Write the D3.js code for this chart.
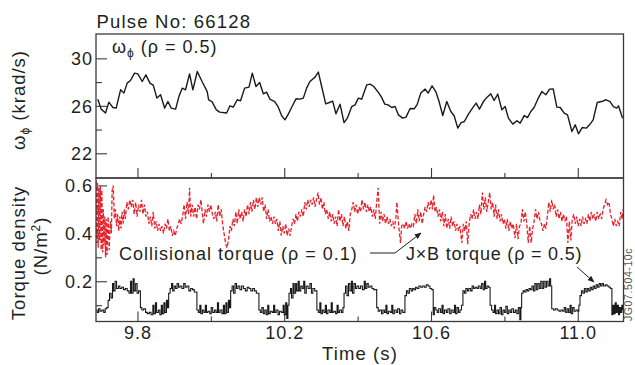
<!DOCTYPE html>
<html><head><meta charset="utf-8">
<script src="https://cdn.jsdelivr.net/npm/d3@7/dist/d3.min.js"></script>
<style>
body{margin:0;background:#fff}
svg text{font-family:"Liberation Sans",Arial,Helvetica,sans-serif;fill:#231f20}
</style></head><body>
<svg id="chart" width="635" height="365"></svg>
<script>
// ---------------- data ----------------
const pulseTitle = "Pulse No: 66128";
const xTickMajor = [9.8, 10.2, 10.6, 11.0];
const xTickMinor = [10.0, 10.4, 10.8];
const xTickLabels = ["9.8", "10.2", "10.6", "11.0"];
const omegaTickMajor = [22, 26, 30];
const omegaTickMinor = [24, 28];
const torqueTickMajor = [0.2, 0.4, 0.6];
const torqueTickMinor = [0.1, 0.3, 0.5];
const torqueTickLabels = ["0.2", "0.4", "0.6"];

// toroidal rotation at rho = 0.5  [time (s), krad/s]
const omegaSeries = [[9.692,26.56],[9.701,25.72],[9.713,25.39],[9.722,26.31],[9.733,25.86],[9.742,25.81],[9.754,27.35],[9.763,27.07],[9.772,27.91],[9.781,28.13],[9.792,28.75],[9.801,28.69],[9.813,28.05],[9.823,28.61],[9.834,27.91],[9.843,27.74],[9.853,26.65],[9.863,26.93],[9.874,25.81],[9.883,26.36],[9.892,25.81],[9.904,25.72],[9.913,26.78],[9.922,27.49],[9.931,27.35],[9.942,28.69],[9.951,27.35],[9.963,28.89],[9.976,28.05],[9.990,27.20],[9.994,26.51],[10.003,26.36],[10.015,25.66],[10.024,25.47],[10.043,25.39],[10.052,26.0],[10.061,25.89],[10.072,26.51],[10.081,26.42],[10.092,27.49],[10.104,27.57],[10.113,28.75],[10.123,27.63],[10.133,27.96],[10.143,27.01],[10.152,27.15],[10.161,26.56],[10.174,26.36],[10.183,25.94],[10.193,25.16],[10.202,24.82],[10.211,25.30],[10.220,25.86],[10.232,26.59],[10.243,26.56],[10.252,26.65],[10.261,27.49],[10.270,28.05],[10.284,28.42],[10.293,28.84],[10.302,27.63],[10.313,26.17],[10.323,26.28],[10.332,26.40],[10.341,25.33],[10.352,26.14],[10.363,24.59],[10.372,24.96],[10.384,25.94],[10.393,26.08],[10.402,26.65],[10.411,26.56],[10.425,27.77],[10.434,27.83],[10.444,27.63],[10.456,27.15],[10.465,26.73],[10.474,26.14],[10.483,26.08],[10.493,25.86],[10.502,25.94],[10.511,25.24],[10.523,24.96],[10.532,25.05],[10.543,25.77],[10.554,25.75],[10.562,26.08],[10.572,27.07],[10.584,27.41],[10.592,27.07],[10.603,27.68],[10.613,27.20],[10.622,26.36],[10.632,25.18],[10.643,26.36],[10.654,25.52],[10.663,25.16],[10.673,24.12],[10.682,24.59],[10.691,24.68],[10.702,25.30],[10.713,25.81],[10.723,26.23],[10.732,25.72],[10.743,26.36],[10.753,26.73],[10.763,27.01],[10.772,26.45],[10.782,26.99],[10.793,25.66],[10.802,25.94],[10.811,24.96],[10.823,24.46],[10.834,24.74],[10.843,24.54],[10.854,25.18],[10.863,25.01],[10.872,25.52],[10.881,25.86],[10.891,26.56],[10.902,27.20],[10.913,26.93],[10.923,27.41],[10.933,27.43],[10.943,25.89],[10.952,25.86],[10.963,25.39],[10.972,25.24],[10.984,23.84],[10.993,24.40],[11.002,23.64],[11.012,24.17],[11.023,24.12],[11.032,24.40],[11.042,24.82],[11.053,26.28],[11.065,26.36],[11.077,26.51],[11.088,26.36],[11.097,25.94],[11.106,25.81],[11.111,26.0],[11.122,24.96]];

// collisional torque density at rho = 0.1  [time (s), N/m^2]
const collisionalSeries = [[9.687,0.62],[9.689,0.36],[9.691,0.61],[9.693,0.34],[9.695,0.59],[9.697,0.37],[9.699,0.6],[9.701,0.33],[9.703,0.58],[9.705,0.32],[9.707,0.5],[9.709,0.35],[9.711,0.47],[9.713,0.3],[9.715,0.46],[9.717,0.31],[9.720,0.47],[9.723,0.33],[9.726,0.45],[9.729,0.4],[9.731,0.58],[9.734,0.6],[9.737,0.46],[9.740,0.5],[9.743,0.43],[9.746,0.48],[9.749,0.41],[9.752,0.47],[9.755,0.42],[9.758,0.49],[9.761,0.44],[9.764,0.5],[9.767,0.46],[9.771,0.53],[9.775,0.5],[9.779,0.54],[9.783,0.51],[9.787,0.54],[9.791,0.48],[9.795,0.53],[9.799,0.47],[9.803,0.52],[9.807,0.49],[9.811,0.54],[9.815,0.48],[9.819,0.52],[9.823,0.47],[9.827,0.49],[9.831,0.44],[9.835,0.47],[9.839,0.43],[9.843,0.49],[9.847,0.42],[9.851,0.45],[9.855,0.41],[9.859,0.44],[9.863,0.41],[9.867,0.43],[9.871,0.4],[9.875,0.44],[9.879,0.42],[9.883,0.46],[9.887,0.41],[9.891,0.43],[9.895,0.39],[9.899,0.41],[9.903,0.39],[9.907,0.42],[9.911,0.44],[9.915,0.46],[9.919,0.44],[9.923,0.47],[9.927,0.52],[9.931,0.46],[9.935,0.53],[9.939,0.48],[9.942,0.59],[9.945,0.47],[9.949,0.52],[9.953,0.47],[9.957,0.51],[9.961,0.46],[9.965,0.52],[9.969,0.5],[9.973,0.54],[9.977,0.48],[9.980,0.44],[9.984,0.5],[9.988,0.47],[9.992,0.52],[9.996,0.49],[10.000,0.52],[10.004,0.48],[10.008,0.46],[10.012,0.49],[10.016,0.45],[10.020,0.52],[10.024,0.47],[10.028,0.5],[10.032,0.44],[10.036,0.4],[10.040,0.36],[10.044,0.34],[10.048,0.37],[10.052,0.43],[10.056,0.41],[10.060,0.46],[10.064,0.43],[10.068,0.49],[10.072,0.44],[10.076,0.5],[10.080,0.46],[10.084,0.49],[10.088,0.45],[10.092,0.5],[10.096,0.47],[10.100,0.52],[10.104,0.48],[10.108,0.53],[10.112,0.49],[10.116,0.54],[10.120,0.5],[10.124,0.55],[10.128,0.51],[10.132,0.55],[10.136,0.52],[10.140,0.55],[10.144,0.49],[10.148,0.52],[10.152,0.46],[10.156,0.5],[10.160,0.45],[10.164,0.47],[10.168,0.44],[10.172,0.47],[10.176,0.44],[10.180,0.46],[10.184,0.41],[10.188,0.45],[10.192,0.39],[10.196,0.43],[10.200,0.4],[10.204,0.44],[10.208,0.39],[10.212,0.42],[10.216,0.39],[10.220,0.43],[10.224,0.46],[10.228,0.44],[10.232,0.48],[10.236,0.45],[10.240,0.49],[10.244,0.47],[10.248,0.5],[10.252,0.47],[10.256,0.53],[10.260,0.5],[10.264,0.54],[10.268,0.51],[10.272,0.54],[10.276,0.52],[10.280,0.55],[10.284,0.51],[10.288,0.54],[10.292,0.57],[10.296,0.52],[10.300,0.55],[10.304,0.5],[10.308,0.53],[10.312,0.48],[10.316,0.5],[10.320,0.46],[10.324,0.49],[10.328,0.45],[10.332,0.48],[10.336,0.44],[10.340,0.47],[10.344,0.43],[10.348,0.5],[10.352,0.45],[10.356,0.48],[10.360,0.43],[10.364,0.47],[10.368,0.42],[10.372,0.45],[10.376,0.41],[10.380,0.48],[10.384,0.5],[10.388,0.53],[10.392,0.49],[10.396,0.52],[10.400,0.48],[10.404,0.51],[10.408,0.49],[10.412,0.54],[10.416,0.5],[10.420,0.53],[10.424,0.49],[10.428,0.52],[10.432,0.49],[10.436,0.51],[10.440,0.47],[10.444,0.5],[10.448,0.46],[10.452,0.53],[10.456,0.59],[10.460,0.44],[10.464,0.49],[10.468,0.45],[10.472,0.48],[10.476,0.44],[10.480,0.47],[10.484,0.44],[10.488,0.46],[10.492,0.43],[10.496,0.45],[10.500,0.42],[10.504,0.46],[10.507,0.53],[10.511,0.45],[10.514,0.4],[10.517,0.36],[10.520,0.43],[10.524,0.44],[10.528,0.42],[10.532,0.45],[10.536,0.42],[10.540,0.44],[10.544,0.42],[10.548,0.44],[10.552,0.43],[10.556,0.48],[10.560,0.44],[10.564,0.5],[10.568,0.45],[10.572,0.49],[10.576,0.44],[10.580,0.48],[10.584,0.51],[10.588,0.49],[10.592,0.53],[10.596,0.5],[10.600,0.54],[10.604,0.5],[10.607,0.56],[10.611,0.49],[10.615,0.51],[10.619,0.47],[10.623,0.5],[10.627,0.45],[10.631,0.49],[10.635,0.43],[10.639,0.48],[10.643,0.42],[10.647,0.46],[10.651,0.42],[10.655,0.47],[10.659,0.43],[10.663,0.45],[10.667,0.41],[10.671,0.44],[10.675,0.41],[10.679,0.43],[10.684,0.36],[10.688,0.44],[10.692,0.41],[10.696,0.45],[10.700,0.355],[10.704,0.44],[10.708,0.48],[10.712,0.46],[10.716,0.5],[10.720,0.46],[10.724,0.49],[10.728,0.46],[10.732,0.52],[10.736,0.48],[10.740,0.57],[10.744,0.5],[10.748,0.55],[10.752,0.49],[10.756,0.53],[10.760,0.57],[10.764,0.5],[10.768,0.53],[10.772,0.47],[10.776,0.52],[10.780,0.46],[10.784,0.5],[10.788,0.45],[10.792,0.48],[10.796,0.44],[10.800,0.46],[10.804,0.42],[10.808,0.46],[10.812,0.41],[10.816,0.45],[10.820,0.42],[10.824,0.44],[10.829,0.38],[10.833,0.44],[10.837,0.376],[10.841,0.43],[10.845,0.44],[10.849,0.5],[10.853,0.45],[10.857,0.49],[10.861,0.44],[10.865,0.36],[10.869,0.43],[10.873,0.36],[10.877,0.42],[10.881,0.45],[10.885,0.5],[10.889,0.46],[10.893,0.49],[10.897,0.45],[10.901,0.44],[10.905,0.41],[10.909,0.44],[10.913,0.42],[10.917,0.47],[10.921,0.53],[10.925,0.49],[10.929,0.54],[10.933,0.5],[10.937,0.52],[10.941,0.47],[10.945,0.5],[10.949,0.46],[10.953,0.49],[10.957,0.45],[10.961,0.48],[10.965,0.45],[10.969,0.47],[10.973,0.36],[10.977,0.45],[10.981,0.37],[10.985,0.46],[10.989,0.48],[10.993,0.44],[10.997,0.47],[11.001,0.43],[11.005,0.46],[11.009,0.43],[11.013,0.47],[11.017,0.44],[11.021,0.46],[11.025,0.44],[11.029,0.48],[11.033,0.45],[11.037,0.49],[11.041,0.46],[11.045,0.48],[11.049,0.45],[11.053,0.49],[11.057,0.46],[11.061,0.48],[11.065,0.46],[11.069,0.5],[11.073,0.52],[11.077,0.54],[11.081,0.52],[11.085,0.53],[11.089,0.48],[11.093,0.46],[11.097,0.43],[11.101,0.46],[11.105,0.43],[11.109,0.45],[11.113,0.43],[11.117,0.49],[11.121,0.46],[11.124,0.5]];

// J x B torque density at rho = 0.5  [time (s), N/m^2]
const jxbSeries = [[9.686,0.08],[9.690,0.07],[9.694,0.085],[9.698,0.075],[9.703,0.08],[9.708,0.07],[9.712,0.085],[9.716,0.09],[9.720,0.12],[9.724,0.15],[9.728,0.13],[9.732,0.19],[9.735,0.16],[9.739,0.2],[9.743,0.17],[9.748,0.18],[9.752,0.17],[9.757,0.175],[9.762,0.165],[9.767,0.17],[9.772,0.16],[9.777,0.15],[9.781,0.2],[9.784,0.15],[9.788,0.21],[9.791,0.16],[9.795,0.19],[9.799,0.15],[9.803,0.16],[9.808,0.09],[9.812,0.08],[9.817,0.085],[9.822,0.07],[9.827,0.065],[9.832,0.07],[9.837,0.06],[9.842,0.1],[9.845,0.065],[9.849,0.11],[9.852,0.07],[9.857,0.08],[9.861,0.06],[9.865,0.1],[9.868,0.065],[9.872,0.11],[9.875,0.07],[9.879,0.12],[9.882,0.09],[9.885,0.15],[9.889,0.17],[9.893,0.19],[9.896,0.16],[9.900,0.18],[9.904,0.17],[9.908,0.19],[9.912,0.175],[9.916,0.18],[9.921,0.17],[9.926,0.19],[9.930,0.175],[9.935,0.18],[9.940,0.16],[9.945,0.17],[9.950,0.165],[9.955,0.155],[9.962,0.08],[9.966,0.07],[9.970,0.1],[9.973,0.065],[9.977,0.08],[9.981,0.07],[9.985,0.1],[9.988,0.07],[9.992,0.075],[9.997,0.065],[10.001,0.09],[10.005,0.07],[10.010,0.08],[10.014,0.07],[10.018,0.11],[10.021,0.07],[10.025,0.08],[10.030,0.065],[10.034,0.1],[10.037,0.065],[10.041,0.11],[10.044,0.07],[10.048,0.12],[10.051,0.09],[10.054,0.16],[10.058,0.18],[10.062,0.15],[10.066,0.19],[10.070,0.17],[10.074,0.18],[10.079,0.165],[10.084,0.18],[10.089,0.17],[10.094,0.16],[10.099,0.175],[10.104,0.17],[10.109,0.16],[10.114,0.17],[10.119,0.16],[10.124,0.15],[10.131,0.08],[10.135,0.07],[10.139,0.09],[10.143,0.065],[10.147,0.08],[10.151,0.06],[10.155,0.1],[10.158,0.065],[10.162,0.075],[10.167,0.07],[10.171,0.1],[10.174,0.07],[10.178,0.08],[10.183,0.06],[10.187,0.075],[10.192,0.07],[10.197,0.1],[10.200,0.06],[10.204,0.11],[10.207,0.045],[10.210,0.1],[10.213,0.15],[10.217,0.17],[10.220,0.13],[10.224,0.19],[10.227,0.15],[10.231,0.19],[10.234,0.16],[10.238,0.2],[10.241,0.16],[10.245,0.18],[10.249,0.17],[10.253,0.2],[10.256,0.15],[10.260,0.18],[10.265,0.17],[10.270,0.19],[10.274,0.15],[10.278,0.17],[10.283,0.16],[10.289,0.08],[10.293,0.07],[10.297,0.11],[10.300,0.065],[10.304,0.08],[10.308,0.07],[10.312,0.1],[10.315,0.065],[10.319,0.08],[10.324,0.07],[10.328,0.11],[10.331,0.07],[10.335,0.075],[10.340,0.065],[10.344,0.1],[10.347,0.07],[10.351,0.08],[10.356,0.07],[10.360,0.09],[10.363,0.15],[10.367,0.18],[10.371,0.14],[10.375,0.19],[10.379,0.16],[10.383,0.2],[10.386,0.15],[10.390,0.19],[10.394,0.17],[10.398,0.18],[10.403,0.17],[10.408,0.18],[10.413,0.165],[10.418,0.2],[10.421,0.17],[10.425,0.19],[10.429,0.175],[10.434,0.18],[10.439,0.17],[10.444,0.165],[10.452,0.09],[10.456,0.075],[10.460,0.08],[10.465,0.065],[10.469,0.08],[10.473,0.07],[10.477,0.1],[10.480,0.065],[10.484,0.075],[10.489,0.07],[10.493,0.1],[10.496,0.065],[10.500,0.08],[10.505,0.07],[10.509,0.085],[10.514,0.065],[10.518,0.08],[10.523,0.07],[10.529,0.14],[10.533,0.16],[10.537,0.15],[10.541,0.17],[10.546,0.16],[10.550,0.17],[10.554,0.165],[10.558,0.175],[10.562,0.17],[10.567,0.18],[10.572,0.175],[10.577,0.18],[10.582,0.175],[10.587,0.185],[10.592,0.18],[10.597,0.17],[10.602,0.165],[10.606,0.06],[10.609,0.09],[10.613,0.08],[10.617,0.07],[10.621,0.085],[10.626,0.07],[10.630,0.1],[10.633,0.065],[10.637,0.08],[10.642,0.07],[10.646,0.085],[10.651,0.065],[10.655,0.08],[10.660,0.07],[10.664,0.1],[10.667,0.065],[10.671,0.09],[10.675,0.07],[10.679,0.08],[10.683,0.1],[10.687,0.16],[10.691,0.15],[10.695,0.17],[10.699,0.16],[10.703,0.17],[10.708,0.16],[10.712,0.18],[10.716,0.17],[10.720,0.175],[10.725,0.17],[10.729,0.18],[10.734,0.17],[10.738,0.19],[10.742,0.165],[10.746,0.2],[10.749,0.17],[10.753,0.18],[10.757,0.175],[10.761,0.1],[10.765,0.08],[10.769,0.07],[10.773,0.1],[10.776,0.065],[10.780,0.08],[10.784,0.065],[10.788,0.09],[10.792,0.06],[10.796,0.08],[10.800,0.07],[10.804,0.095],[10.808,0.065],[10.812,0.08],[10.816,0.07],[10.820,0.085],[10.825,0.07],[10.830,0.08],[10.834,0.065],[10.838,0.09],[10.842,0.04],[10.845,0.09],[10.847,0.15],[10.851,0.16],[10.855,0.155],[10.859,0.165],[10.863,0.16],[10.867,0.17],[10.871,0.165],[10.875,0.18],[10.879,0.16],[10.883,0.19],[10.887,0.165],[10.891,0.19],[10.895,0.17],[10.899,0.2],[10.903,0.17],[10.907,0.2],[10.911,0.175],[10.915,0.2],[10.919,0.18],[10.923,0.21],[10.926,0.18],[10.929,0.085],[10.934,0.08],[10.939,0.085],[10.944,0.08],[10.949,0.075],[10.954,0.08],[10.959,0.075],[10.963,0.09],[10.967,0.07],[10.971,0.085],[10.975,0.07],[10.979,0.1],[10.982,0.065],[10.986,0.09],[10.990,0.075],[10.995,0.08],[11.000,0.075],[11.003,0.1],[11.006,0.14],[11.010,0.16],[11.014,0.15],[11.018,0.17],[11.022,0.155],[11.026,0.17],[11.030,0.16],[11.034,0.175],[11.038,0.165],[11.042,0.18],[11.046,0.17],[11.050,0.185],[11.054,0.175],[11.058,0.19],[11.062,0.18],[11.066,0.19],[11.070,0.18],[11.075,0.185],[11.080,0.18],[11.085,0.175],[11.089,0.17],[11.093,0.06],[11.096,0.1],[11.099,0.065],[11.102,0.11],[11.105,0.07],[11.108,0.1],[11.111,0.06],[11.114,0.09],[11.117,0.07],[11.120,0.1],[11.123,0.08]];

// ---------------- drawing ----------------
const svg = d3.select("#chart");
const left = 96, right = 623.5;
const topY0 = 34, topY1 = 178, botY0 = 178, botY1 = 321.5;

const x = d3.scaleLinear().domain([9.687, 11.1246]).range([left, right]);
const yTop = d3.scaleLinear().domain([19.92, 32.05]).range([topY1, topY0]);
const yBot = d3.scaleLinear().domain([0.032, 0.631]).range([botY1, botY0]);

const axisColor = "#3a3a3a";
const fontSize = 18;

function tickAxis(axis, tx, ty) {
  const g = svg.append("g").attr("transform", `translate(${tx},${ty})`).call(axis);
  g.select(".domain").remove();
  g.selectAll("line").attr("stroke", axisColor).attr("stroke-width", 1.1);
  return g;
}

// top panel ticks
tickAxis(d3.axisBottom(x).tickValues(xTickMajor).tickSize(-10).tickFormat(""), 0, topY1);
tickAxis(d3.axisBottom(x).tickValues(xTickMinor).tickSize(-5).tickFormat(""), 0, topY1);
tickAxis(d3.axisLeft(yTop).tickValues(omegaTickMajor).tickSize(-11).tickFormat(""), left, 0);
tickAxis(d3.axisLeft(yTop).tickValues(omegaTickMinor).tickSize(-6).tickFormat(""), left, 0);
// bottom panel ticks
tickAxis(d3.axisBottom(x).tickValues(xTickMajor).tickSize(-10).tickFormat(""), 0, botY1);
tickAxis(d3.axisBottom(x).tickValues(xTickMinor).tickSize(-5).tickFormat(""), 0, botY1);
tickAxis(d3.axisLeft(yBot).tickValues(torqueTickMajor).tickSize(-11).tickFormat(""), left, 0);
tickAxis(d3.axisLeft(yBot).tickValues(torqueTickMinor).tickSize(-6).tickFormat(""), left, 0);

// tick labels
function labelAxis(axis, tx, ty, fn) {
  const g = svg.append("g").attr("transform", `translate(${tx},${ty})`).call(axis);
  g.select(".domain").remove();
  g.selectAll("line").remove();
  g.attr("font-family", null).attr("font-size", null);
  g.selectAll("text").attr("fill", "#231f20").style("font-size", fontSize + "px").style("letter-spacing", "1px");
  if (fn) fn(g);
  return g;
}
labelAxis(d3.axisBottom(x).tickValues(xTickMajor).tickSize(0).tickFormat((d, i) => xTickLabels[i]), 0, botY1,
  g => g.selectAll("text").attr("y", 17).attr("dy", null));
labelAxis(d3.axisLeft(yTop).tickValues(omegaTickMajor).tickSize(0).tickPadding(3).tickFormat(d3.format("d")), left, 0,
  g => g.selectAll("text").attr("dy", "0.36em"));
labelAxis(d3.axisLeft(yBot).tickValues(torqueTickMajor).tickSize(0).tickPadding(3).tickFormat((d, i) => torqueTickLabels[i]), left, 0,
  g => g.selectAll("text").attr("dy", "0.36em"));

// clip paths
const defs = svg.append("defs");
defs.append("clipPath").attr("id", "clipTop").append("rect")
  .attr("x", left).attr("y", topY0).attr("width", right - left).attr("height", topY1 - topY0);
defs.append("clipPath").attr("id", "clipBot").append("rect")
  .attr("x", left).attr("y", botY0).attr("width", right - left).attr("height", botY1 - botY0);
defs.append("marker").attr("id", "arrow").attr("viewBox", "0 0 10 10").attr("refX", 9).attr("refY", 5)
  .attr("markerWidth", 7).attr("markerHeight", 7).attr("markerUnits", "userSpaceOnUse").attr("orient", "auto")
  .append("path").attr("d", "M0,1 L10,5 L0,9 Z").attr("fill", "#231f20");

// lines
const omegaLine = d3.line().x(d => x(d[0])).y(d => yTop(d[1]));
svg.append("path").datum(omegaSeries).attr("clip-path", "url(#clipTop)")
  .attr("d", omegaLine).attr("fill", "none").attr("stroke", "#1a1a1a").attr("stroke-width", 1.4)
  .attr("stroke-linejoin", "round");

const collLine = d3.line().x(d => x(d[0])).y(d => yBot(d[1]));
svg.append("path").datum(collisionalSeries).attr("clip-path", "url(#clipBot)")
  .attr("d", collLine).attr("fill", "none").attr("stroke", "#e8212b").attr("stroke-width", 1.3)
  .attr("stroke-dasharray", "4,2");

const jxbLine = d3.line().curve(d3.curveStepAfter).x(d => x(d[0])).y(d => yBot(d[1]));
svg.append("path").datum(jxbSeries).attr("clip-path", "url(#clipBot)")
  .attr("d", jxbLine).attr("fill", "none").attr("stroke", "#1a1a1a").attr("stroke-width", 1.1);

// frames
svg.append("rect").attr("x", left).attr("y", topY0).attr("width", right - left).attr("height", topY1 - topY0)
  .attr("fill", "none").attr("stroke", axisColor).attr("stroke-width", 1.3);
svg.append("rect").attr("x", left).attr("y", botY0).attr("width", right - left).attr("height", botY1 - botY0)
  .attr("fill", "none").attr("stroke", axisColor).attr("stroke-width", 1.3);

// texts
svg.append("text").attr("x", 96.5).attr("y", 28).style("font-size", "18.5px").style("letter-spacing", "1.2px").text(pulseTitle);

// panel annotation omega_phi (rho = 0.5)
const ann = svg.append("text").attr("x", 112).attr("y", 53).style("font-size", "18px").style("letter-spacing", "1px");
ann.append("tspan").text("ω");
ann.append("tspan").attr("dy", 4).style("font-size", "12px").text("ϕ");
ann.append("tspan").attr("dy", -4).text(" (ρ = 0.5)");

// y axis title top
const yt = svg.append("text").attr("transform", "translate(25,100) rotate(-90)").attr("text-anchor", "middle")
  .style("font-size", "18.5px").style("letter-spacing", "1px");
yt.append("tspan").text("ω");
yt.append("tspan").attr("dy", 4).style("font-size", "12px").text("ϕ");
yt.append("tspan").attr("dy", -4).text(" (krad/s)");

// y axis title bottom
svg.append("text").attr("transform", "translate(25,253) rotate(-90)").attr("text-anchor", "middle")
  .style("font-size", "18.5px").style("letter-spacing", "1px").text("Torque density");
const yb = svg.append("text").attr("transform", "translate(47,246) rotate(-90)").attr("text-anchor", "middle")
  .style("font-size", "18.5px").style("letter-spacing", "1px");
yb.append("tspan").text("(N/m");
yb.append("tspan").attr("dy", -7).style("font-size", "12px").text("2");
yb.append("tspan").attr("dy", 7).text(")");

// x axis title
svg.append("text").attr("x", 360).attr("y", 359.5).attr("text-anchor", "middle")
  .style("font-size", "18.5px").style("letter-spacing", "1.1px").text("Time (s)");

// curve annotations
svg.append("text").attr("x", 119).attr("y", 260).style("font-size", "18px").style("letter-spacing", "1px")
  .text("Collisional torque (ρ = 0.1)");
svg.append("text").attr("x", 406).attr("y", 260).style("font-size", "18px").style("letter-spacing", "0.8px")
  .text("J×B torque (ρ = 0.5)");

svg.append("path").attr("d", d3.line()([[370, 253], [395, 253], [421, 233]]))
  .attr("fill", "none").attr("stroke", "#231f20").attr("stroke-width", 1).attr("marker-end", "url(#arrow)");
svg.append("path").attr("d", d3.line()([[577, 267], [594, 282]]))
  .attr("fill", "none").attr("stroke", "#231f20").attr("stroke-width", 1).attr("marker-end", "url(#arrow)");

// figure id
svg.append("text").attr("transform", "translate(632,321) rotate(-90)").attr("text-anchor", "start")
  .style("font-size", "10.5px").style("fill", "#555").style("letter-spacing", "0.6px").text("JG07.504-10c");
</script>
</body></html>
